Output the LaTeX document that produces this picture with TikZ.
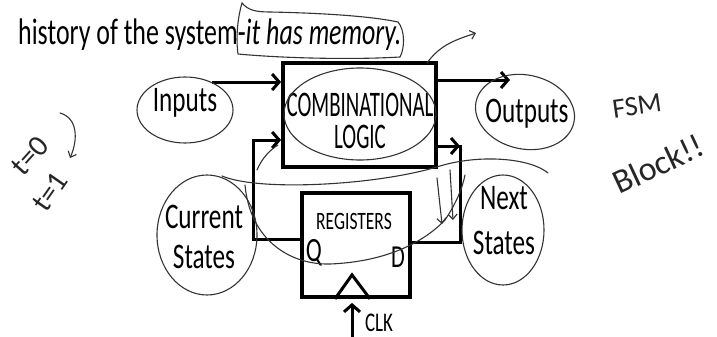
\documentclass[tikz,border=0pt]{standalone}
\usepackage{fontspec}
\usetikzlibrary{arrows.meta,calc}
\newfontfamily\cf[FakeStretch=0.7]{Carlito}
\newfontfamily\cfc[FakeStretch=0.58]{Carlito}
\newfontfamily\hw{Carlito}
\begin{document}
\begin{tikzpicture}[x=1pt,y=-1pt,
  box/.style={draw, line width=3.8pt, inner sep=0pt},
  flow/.style={line width=3pt, line join=miter, -{Straight Barb[length=7pt,width=16pt,line width=3pt]}},
  wire/.style={line width=3pt, line join=miter},
  hand/.style={line width=1.1pt, draw=black!80, line cap=round},
  handarrow/.style={hand, -{Straight Barb[length=5pt,width=9pt,line width=1.1pt]}},
  lbl/.style={font=\cf\fontsize{36}{36}\selectfont, inner sep=0pt},
  hwtext/.style={font=\hw\fontsize{28}{28}\selectfont, inner sep=0pt, text=black!85},
]
\useasboundingbox (0,0) rectangle (717,337);

% title line
\node[anchor=base west, font=\cf\fontsize{37}{37}\selectfont, inner sep=0pt] (hist) at (18,45) {history of the system-\textit{it has memory.}};

% main blocks
\node[box, minimum width=153pt, minimum height=104pt] (comb) at (359.5,115) {};
\node[inner sep=0pt, align=center, font=\cfc\fontsize{36}{32}\selectfont] (comblbl) at (360,121) {COMBINATIONAL\\LOGIC};

\node[box, minimum width=108pt, minimum height=104pt] (reg) at (356,245) {};
\node[inner sep=0pt, font=\cf\fontsize{25}{25}\selectfont] (reglbl) at (354,221) {REGISTERS};
\node[lbl, font=\cf\fontsize{34}{34}\selectfont] (q) at (314,253) {Q};
\node[lbl, font=\cf\fontsize{32}{32}\selectfont] (d) at (398,257) {D};
\draw[line width=3pt, line join=miter] ($(reg.south)+(-21,0)$) -- ($(reg.south)+(-4,-24)$) -- ($(reg.south)+(14,0)$);

% clock
\coordinate (clkin) at (352,337);
\draw[flow] (clkin) -- ($(clkin |- reg.south)+(0,4)$);
\node[inner sep=0pt, font=\cf\fontsize{27}{27}\selectfont] (clk) at (379,323) {CLK};

% inputs / outputs
\node[lbl] (in) at (185,103) {Inputs};
\coordinate (inA) at (212,82);
\draw[flow] (inA) -- (inA -| comb.west);

\node[lbl] (out) at (527,114) {Outputs};
\coordinate (outA) at (510,80);
\draw[flow] (outA -| comb.east) -- (outA);

% state feedback
\node[lbl, align=center, font=\cf\fontsize{36}{40}\selectfont] (cs) at (204,237) {Current\\States};
\node[lbl, align=center, font=\cf\fontsize{36}{45}\selectfont] (ns) at (504,221) {Next\\States};

\coordinate (qpin) at (302,239);
\coordinate (csc) at (253,140);
\draw[flow] (qpin) -| (csc) -- (csc -| comb.west);

\coordinate (nsc) at (460,146);
\coordinate (dpin) at (410,242);
\draw[wire] (comb.east |- nsc) -- (nsc) |- (dpin);
\draw[flow] (comb.east |- nsc) -- (nsc);

% hand-drawn annotations
\draw[hand] (185,110) ellipse [x radius=48, y radius=33];
\draw[hand, rotate around={-12:(525,112)}] (525,112) ellipse [x radius=50, y radius=37];
\draw[hand] (207,235) ellipse [x radius=50, y radius=60];
\draw[hand] (503,230) ellipse [x radius=41, y radius=55];
\draw[hand] (360,114) ellipse [x radius=76, y radius=46];

% bubble around "it has memory."
\draw[hand] (238,54) .. controls (236,40) and (237,20) .. (242,3)
  .. controls (248,10) and (255,12) .. (270,12)
  .. controls (320,13) and (370,16) .. (398,22)
  .. controls (405,30) and (405,48) .. (400,57)
  .. controls (350,60) and (280,58) .. (238,54);
\draw[handarrow] (427,63) .. controls (440,45) and (455,40) .. (476,33);

% feedback scribbles
\draw[hand] (222,176) .. controls (260,192) and (380,185) .. (440,166)
  .. controls (480,154) and (530,158) .. (548,173);
\draw[hand] (245,185) .. controls (250,240) and (290,265) .. (330,264)
  .. controls (380,262) and (420,246) .. (445,220)
  .. controls (455,205) and (462,190) .. (465,175);
\draw[hand] (257,170) .. controls (262,158) and (270,150) .. (278,145);
\draw[handarrow] (437,178) -- (442,224);
\draw[handarrow] (450,170) -- (453,220);

% left notes
\node[hwtext, rotate=48, font=\hw\fontsize{30}{30}\selectfont] (t0) at (30,156) {t=0};
\node[hwtext, rotate=55, font=\hw\fontsize{30}{30}\selectfont] (t1) at (50,192) {t=1};
\draw[handarrow] (60,113) .. controls (78,118) and (78,140) .. (70,158);

% right notes
\node[hwtext, rotate=8, font=\hw\fontsize{28}{28}\selectfont] (fsm) at (637,106) {FSM};
\node[hwtext, rotate=25, font=\hw\fontsize{34}{34}\selectfont] (blk) at (658,164) {Block!!};
\end{tikzpicture}
\end{document}
